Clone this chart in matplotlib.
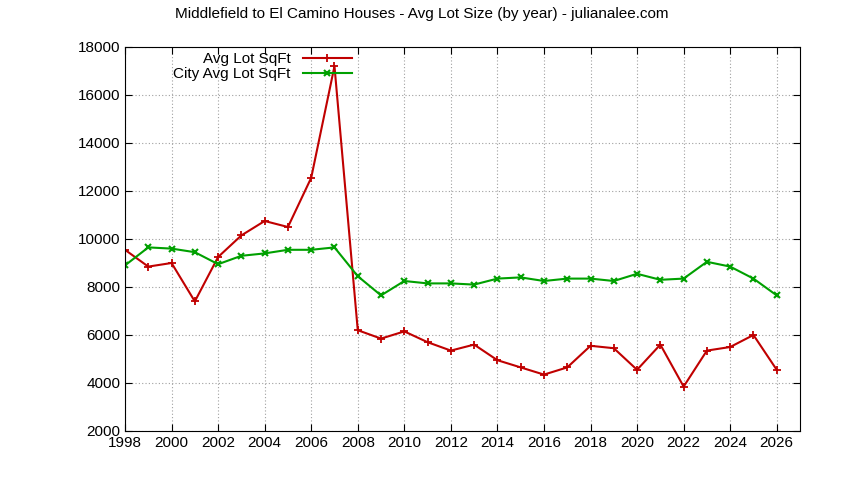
import matplotlib
matplotlib.use("Agg")
import matplotlib.pyplot as plt

years = list(range(1998, 2027))
avg_lot = [9550, 8850, 9000, 7400, 9250, 10150, 10750, 10500, 12550, 17200,
           6200, 5850, 6150, 5700, 5350, 5600, 4950, 4650, 4350, 4650,
           5550, 5450, 4550, 5600, 3850, 5350, 5500, 6000, 4550]
city_avg = [8900, 9650, 9600, 9450, 8950, 9300, 9400, 9550, 9550, 9650,
            8450, 7650, 8250, 8150, 8150, 8100, 8350, 8400, 8250, 8350,
            8350, 8250, 8550, 8300, 8350, 9050, 8850, 8350, 7650]

plt.rcParams["font.family"] = ["Liberation Sans", "DejaVu Sans"]
fig = plt.figure(figsize=(8.44, 4.8), dpi=100)
ax = fig.add_axes([125 / 844, 1 - 431 / 480, 675 / 844, 384 / 480])

ax.plot(years, avg_lot, color="#c00000", lw=1.5, marker="+", ms=6, mew=1.3,
        label="Avg Lot SqFt")
ax.plot(years, city_avg, color="#00a000", lw=1.5, marker="x", ms=4.5, mew=1.5,
        label="City Avg Lot SqFt")

ax.set_xlim(1998, 2027)
ax.set_ylim(2000, 18000)
ax.set_xticks(range(1998, 2027, 2))
ax.set_yticks(range(2000, 18001, 2000))
ax.grid(True, color="#a0a0a0", linestyle=(0, (1, 2)), lw=0.8)
ax.tick_params(direction="in", labelsize=11, top=True, right=True, length=5)
for s in ax.spines.values():
    s.set_linewidth(0.8)

ax.legend(loc="upper left", bbox_to_anchor=(0.058, 1.01), frameon=False,
          markerfirst=False, fontsize=11, handlelength=3.2,
          labelspacing=0.05, borderaxespad=0.2)
fig.suptitle("Middlefield to El Camino Houses - Avg Lot Size (by year) - julianalee.com",
             fontsize=11, y=0.985)
fig.savefig("out.png", dpi=100)
